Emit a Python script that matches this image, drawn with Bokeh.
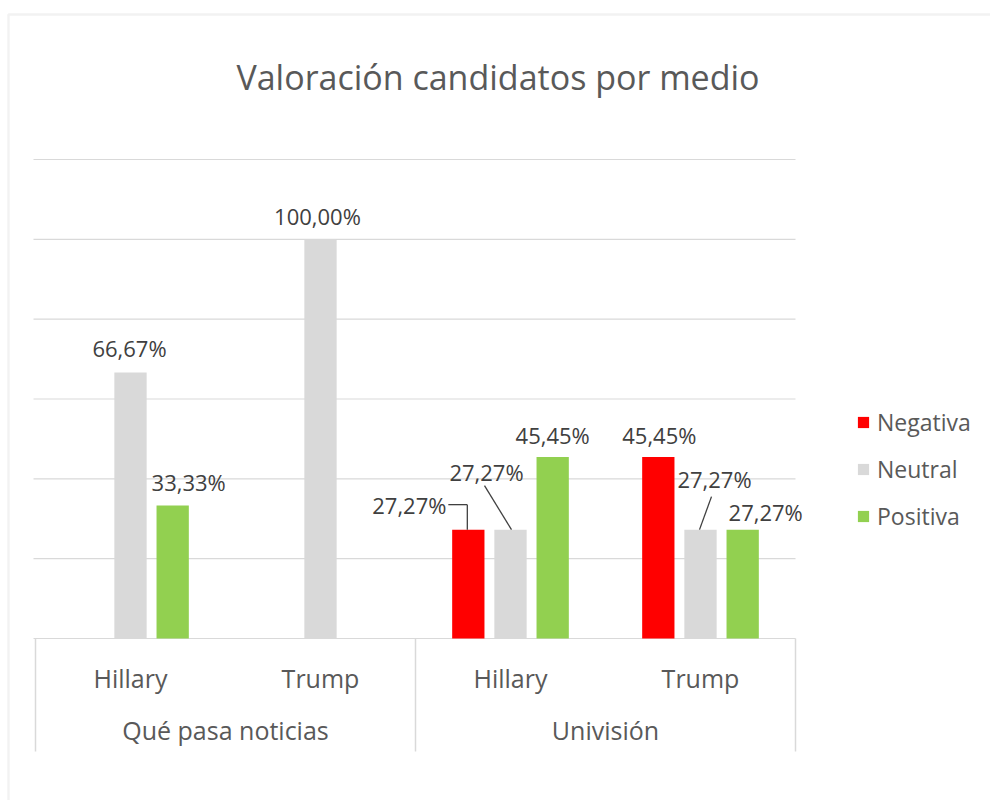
from bokeh.plotting import figure
from bokeh.models import (Range1d, ColumnDataSource, Legend, LegendItem, BoxAnnotation)
from bokeh.transform import dodge
from bokeh.core.properties import value
from bokeh.embed import file_html
from bokeh.resources import INLINE

# ---------------- data ----------------
title_text = "Valoración candidatos por medio"
medios = ["Qué pasa noticias", "Qué pasa noticias", "Univisión", "Univisión"]
candidatos = ["Hillary", "Trump", "Hillary", "Trump"]
series = ["Negativa", "Neutral", "Positiva"]
negativa = [None, None, 27.27, 45.45]
neutral = [66.67, 100.00, 27.27, 27.27]
positiva = [33.33, None, 45.45, 27.27]
y_ticks = [0, 20, 40, 60, 80, 100, 120]

# ---------------- style / layout ----------------
FONT = "Open Sans"
TEXT_GREY = "#595959"
LABEL_GREY = "#404040"
GRID_GREY = "#D9D9D9"
colors = {"Negativa": "#FF0000", "Neutral": "#D9D9D9", "Positiva": "#92D050"}
dodge_off = {"Negativa": -0.222, "Neutral": 0.0, "Positiva": 0.222}
BAR_W = 0.17

W, H = 990, 800                 # canvas
LEFT_X, RIGHT_X = 35, 795       # plot area (px)
TOP_Y, BASE_Y = 159, 638        # plot area (px)
Y_MAX = y_ticks[-1]
N = len(candidatos)
PX_X = (RIGHT_X - LEFT_X) / N   # px per category
PX_Y = (BASE_Y - TOP_Y) / Y_MAX # px per percent point
BASELINE_FIX = 0.35             # em: raise text to its intended baseline


def px2x(px):
    return (px - LEFT_X) / PX_X


def py2y(py):
    return (BASE_Y - py) / PX_Y


LABEL_SIZE, AXIS_SIZE, TITLE_SIZE, LEGEND_SIZE = 22, 25, 34, 23

# data-label positions: (dx, dy) px of label baseline-centre relative to bar top centre
label_pos = {
    ("Qué pasa noticias", "Hillary", "Neutral"): (-1, -17),
    ("Qué pasa noticias", "Hillary", "Positiva"): (16, -16),
    ("Qué pasa noticias", "Trump", "Neutral"): (-3, -16),
    ("Univisión", "Hillary", "Negativa"): (-59, -17),
    ("Univisión", "Hillary", "Neutral"): (-24, -50),
    ("Univisión", "Hillary", "Positiva"): (0, -14),
    ("Univisión", "Trump", "Negativa"): (1, -14),
    ("Univisión", "Trump", "Neutral"): (14, -43),
    ("Univisión", "Trump", "Positiva"): (23, -10),
}
# leader lines, px relative to bar top centre
leaders = [
    (("Univisión", "Hillary", "Negativa"), (-20, -25), (-1, -25)),
    (("Univisión", "Hillary", "Negativa"), (-1, -25), (-1, 0)),
    (("Univisión", "Hillary", "Neutral"), (-26, -44), (1, 0)),
    (("Univisión", "Trump", "Neutral"), (11, -33), (-1, 0)),
]
CAT_BASELINE_Y = 686
GROUP_BASELINE_Y = 738
SEP_BOTTOM_Y = 751
TITLE_X, TITLE_BASELINE_Y = 497.5, 88

# ---------------- figure ----------------
p = figure(width=W, height=H,
           x_range=Range1d(px2x(0), px2x(W)), y_range=Range1d(py2y(H), py2y(0)),
           x_axis_location=None, y_axis_location=None,
           min_border=0, output_backend="svg", toolbar_location=None)
p.background_fill_color = "white"
p.border_fill_color = "white"
p.outline_line_color = None
p.grid.visible = False

# chart border (top & left edges visible)
p.add_layout(BoxAnnotation(left=px2x(8), top=py2y(14), right=px2x(3000), bottom=py2y(3000),
                           fill_alpha=0, line_color="#D4D4D4", line_width=2.5))

# category positions (category units)
cat_x = [i + 0.5 for i in range(N)]
groups = list(dict.fromkeys(medios))
group_x = [sum(x for x, m in zip(cat_x, medios) if m == g) / medios.count(g) for g in groups]

# gridlines at y ticks across the plot area
p.segment(x0=[px2x(33)] * len(y_ticks), x1=[N] * len(y_ticks), y0=y_ticks, y1=y_ticks,
          line_color=GRID_GREY, line_width=1.2)

# separators below the axis: plot ends and group boundaries
bounds = [0]
for i in range(1, N):
    if medios[i] != medios[i - 1]:
        bounds.append(i)
bounds.append(N)
p.segment(x0=bounds, x1=bounds, y0=[0] * len(bounds), y1=[py2y(SEP_BOTTOM_Y)] * len(bounds),
          line_color=GRID_GREY, line_width=1.5)

# bars
src = ColumnDataSource(dict(x=cat_x, Negativa=negativa, Neutral=neutral, Positiva=positiva))
renderers = {}
for s in series:
    renderers[s] = p.vbar(x=dodge("x", dodge_off[s]), top=s, width=BAR_W, bottom=0,
                          source=src, fill_color=colors[s], line_color=None)

# data labels
vals = {"Negativa": negativa, "Neutral": neutral, "Positiva": positiva}
lx, ly, lt, ldx, ldy = [], [], [], [], []
for s in series:
    for x, m, c, v in zip(cat_x, medios, candidatos, vals[s]):
        if v is None:
            continue
        dx, dy = label_pos[(m, c, s)]
        lx.append(x + dodge_off[s])
        ly.append(v)
        lt.append(f"{v:.2f}".replace(".", ",") + "%")
        ldx.append(dx)
        ldy.append(dy - BASELINE_FIX * LABEL_SIZE)
p.text(x="x", y="y", text="t", x_offset="dx", y_offset="dy",
       source=ColumnDataSource(dict(x=lx, y=ly, t=lt, dx=ldx, dy=ldy)),
       text_align="center", text_baseline="alphabetic",
       text_font=value(FONT), text_font_size=f"{LABEL_SIZE}px", text_color=LABEL_GREY)

# leader lines
x0s, y0s, x1s, y1s = [], [], [], []
for (m, c, s), (ax0, ay0), (ax1, ay1) in leaders:
    i = [k for k in range(N) if medios[k] == m and candidatos[k] == c][0]
    v = vals[s][i]
    bx = cat_x[i] + dodge_off[s]
    x0s.append(bx + ax0 / PX_X)
    x1s.append(bx + ax1 / PX_X)
    y0s.append(v - ay0 / PX_Y)
    y1s.append(v - ay1 / PX_Y)
p.segment(x0=x0s, y0=y0s, x1=x1s, y1=y1s, line_color=LABEL_GREY, line_width=1.3)

# category axis labels
axis_fix = BASELINE_FIX * AXIS_SIZE
p.text(x=cat_x, y=[py2y(CAT_BASELINE_Y - axis_fix)] * N, text=candidatos,
       text_align="center", text_baseline="alphabetic",
       text_font=value(FONT), text_font_size=f"{AXIS_SIZE}px", text_color=TEXT_GREY)
p.text(x=group_x, y=[py2y(GROUP_BASELINE_Y - axis_fix)] * len(groups), text=groups,
       text_align="center", text_baseline="alphabetic",
       text_font=value(FONT), text_font_size=f"{AXIS_SIZE}px", text_color=TEXT_GREY)

# title
p.text(x=[px2x(TITLE_X)], y=[py2y(TITLE_BASELINE_Y - BASELINE_FIX * TITLE_SIZE)], text=[title_text],
       text_align="center", text_baseline="alphabetic",
       text_font=value(FONT), text_font_size=f"{TITLE_SIZE}px", text_color=TEXT_GREY)

# legend
legend = Legend(items=[LegendItem(label=s, renderers=[renderers[s]]) for s in series],
                location=(856, H - 532), orientation="vertical",
                glyph_width=14, glyph_height=14, label_height=31, label_standoff=7, spacing=15,
                padding=0, margin=0, border_line_color=None, background_fill_alpha=0,
                label_text_font=FONT, label_text_font_size=f"{LEGEND_SIZE}px",
                label_text_color=TEXT_GREY)
p.add_layout(legend)

open("out.html", "w").write(file_html(p, INLINE))
